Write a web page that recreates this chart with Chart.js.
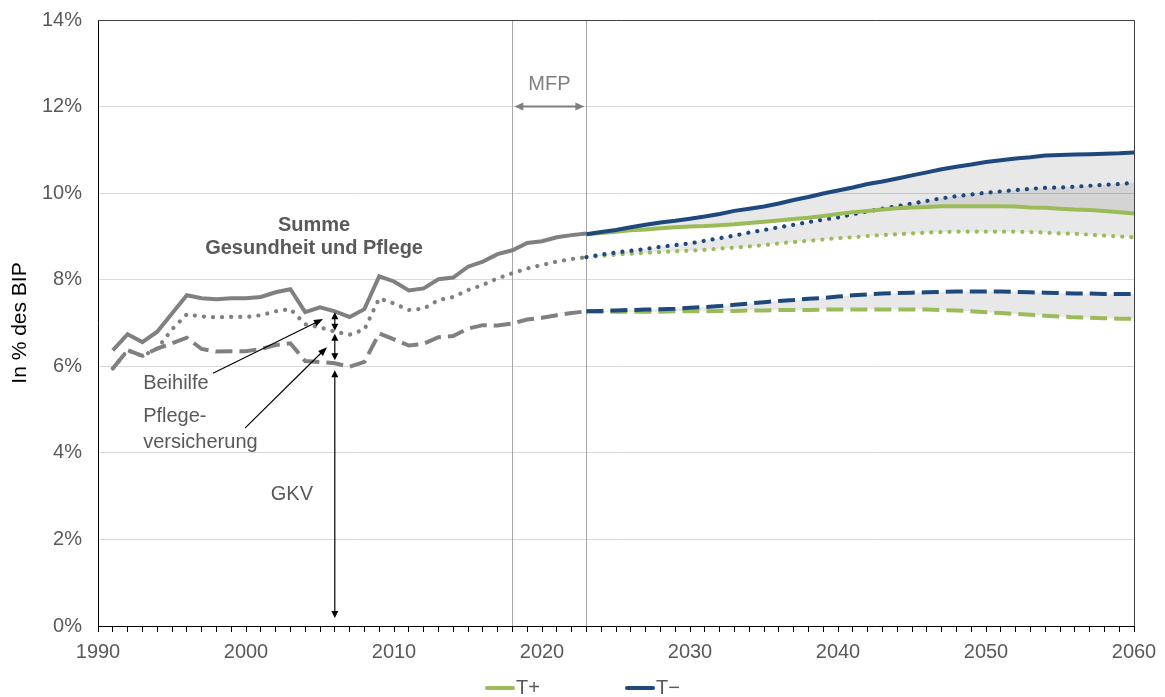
<!DOCTYPE html>
<html lang="de">
<head>
<meta charset="utf-8">
<title>Gesundheit und Pflege in % des BIP</title>
<script src="https://cdn.jsdelivr.net/npm/chart.js@4.4.1/dist/chart.umd.min.js"></script>
<style>
    html, body { margin: 0; padding: 0; background: #fff; }
    #wrap { width: 1165px; height: 697px; position: relative; }
</style>
</head>
<body>
<div id="wrap"><canvas id="chart"></canvas></div>
<script>
// Historische Werte 1991-2023 (in % des BIP)
var histYears = [1991, 1992, 1993, 1994, 1995, 1996, 1997, 1998, 1999, 2000, 2001, 2002, 2003, 2004, 2005, 2006, 2007,
    2008, 2009, 2010, 2011, 2012, 2013, 2014, 2015, 2016, 2017, 2018, 2019, 2020, 2021, 2022, 2023];
var histSumme = [6.37, 6.74, 6.56, 6.80, 7.22, 7.64, 7.57, 7.55, 7.57, 7.57, 7.60, 7.71, 7.78, 7.25, 7.36, 7.27, 7.14,
    7.32, 8.08, 7.96, 7.75, 7.80, 8.01, 8.05, 8.30, 8.42, 8.59, 8.68, 8.85, 8.89, 8.98, 9.03, 9.07];
var histGkvPflege = [5.95, 6.37, 6.24, 6.41, 6.85, 7.20, 7.15, 7.13, 7.14, 7.14, 7.18, 7.27, 7.32, 6.97, 6.90, 6.80, 6.73,
    6.85, 7.57, 7.45, 7.30, 7.33, 7.53, 7.60, 7.76, 7.88, 8.03, 8.15, 8.26, 8.34, 8.42, 8.48, 8.52];
var histGkv = [5.95, 6.37, 6.24, 6.41, 6.53, 6.66, 6.40, 6.34, 6.35, 6.35, 6.40, 6.49, 6.53, 6.12, 6.10, 6.07, 5.99,
    6.10, 6.76, 6.62, 6.48, 6.52, 6.67, 6.70, 6.87, 6.95, 6.94, 6.99, 7.08, 7.12, 7.18, 7.23, 7.27];

// Projektion 2023-2060, Varianten T- und T+
var projYears = [2023, 2024, 2025, 2026, 2027, 2028, 2029, 2030, 2031, 2032, 2033, 2034, 2035, 2036, 2037, 2038, 2039,
    2040, 2041, 2042, 2043, 2044, 2045, 2046, 2047, 2048, 2049, 2050, 2051, 2052, 2053, 2054, 2055, 2056, 2057, 2058,
    2059, 2060];
var summeMinus = [9.05, 9.10, 9.15, 9.21, 9.27, 9.32, 9.36, 9.41, 9.46, 9.52, 9.59, 9.64, 9.69, 9.76, 9.84, 9.91, 9.99,
    10.06, 10.13, 10.21, 10.27, 10.34, 10.41, 10.48, 10.55, 10.61, 10.66, 10.72, 10.76, 10.80, 10.83, 10.87, 10.88,
    10.89, 10.90, 10.91, 10.92, 10.94];
var summePlus = [9.05, 9.08, 9.11, 9.14, 9.16, 9.19, 9.21, 9.23, 9.24, 9.26, 9.28, 9.31, 9.34, 9.37, 9.40, 9.43, 9.47,
    9.52, 9.56, 9.59, 9.62, 9.65, 9.67, 9.68, 9.70, 9.70, 9.70, 9.70, 9.70, 9.69, 9.67, 9.66, 9.64, 9.62, 9.61, 9.59,
    9.56, 9.53];
var gkvPflegeMinus = [8.52, 8.58, 8.63, 8.67, 8.71, 8.76, 8.80, 8.84, 8.90, 8.96, 9.02, 9.09, 9.15, 9.21, 9.27, 9.33,
    9.39, 9.44, 9.51, 9.58, 9.64, 9.70, 9.76, 9.82, 9.88, 9.93, 9.97, 10.01, 10.04, 10.07, 10.10, 10.12, 10.13, 10.15,
    10.17, 10.19, 10.21, 10.24];
var gkvPflegePlus = [8.52, 8.55, 8.58, 8.60, 8.62, 8.64, 8.66, 8.67, 8.69, 8.72, 8.74, 8.77, 8.80, 8.84, 8.87, 8.90,
    8.93, 8.96, 8.98, 9.01, 9.03, 9.05, 9.07, 9.09, 9.10, 9.11, 9.11, 9.11, 9.11, 9.11, 9.10, 9.09, 9.07, 9.06, 9.04,
    9.02, 9.00, 8.98];
var gkvMinus = [7.27, 7.28, 7.29, 7.30, 7.31, 7.32, 7.33, 7.35, 7.37, 7.39, 7.42, 7.45, 7.48, 7.51, 7.53, 7.56, 7.58,
    7.61, 7.64, 7.66, 7.68, 7.69, 7.70, 7.71, 7.72, 7.73, 7.73, 7.73, 7.73, 7.72, 7.71, 7.70, 7.69, 7.68, 7.68, 7.67,
    7.67, 7.67];
var gkvPlus = [7.27, 7.26, 7.26, 7.26, 7.26, 7.26, 7.27, 7.27, 7.27, 7.28, 7.28, 7.29, 7.29, 7.30, 7.30, 7.30, 7.31,
    7.31, 7.31, 7.31, 7.31, 7.31, 7.31, 7.31, 7.30, 7.29, 7.27, 7.25, 7.23, 7.21, 7.19, 7.17, 7.15, 7.13, 7.12, 7.11,
    7.10, 7.10];

// Achsen und Markierungen
var yTicks = [0, 2, 4, 6, 8, 10, 12, 14];
var xLabelYears = [1990, 2000, 2010, 2020, 2030, 2040, 2050, 2060];
var mfpStart = 2018;
var mfpEnd = 2023;
var markYear = 2006;
var legendItems = ['T+', 'T\u2212'];

var GRAY = '#808080';
var NAVY = '#1f497d';
var GREEN = '#9bbb59';
var TEXT = '#595959';
var BAND = 'rgba(0, 0, 0, 0.09)';
var FONT = '"Liberation Sans", Arial, sans-serif';

function points(years, values) {
    return years.map(function (y, i) { return { x: y, y: values[i] }; });
}

function line(label, years, values, color, style, fill) {
    var ds = {
        label: label,
        data: points(years, values),
        borderColor: color,
        borderWidth: 4,
        pointRadius: 0,
        tension: 0,
        fill: false,
        borderCapStyle: 'butt'
    };
    if (style === 'dot') {
        ds.borderDash = [0.1, 9];
        ds.borderCapStyle = 'round';
        ds.borderWidth = 4.2;
    } else if (style === 'dash') {
        ds.borderDash = [17, 7];
    }
    if (fill !== undefined) {
        ds.fill = fill;
        ds.backgroundColor = BAND;
    }
    return ds;
}

function arrowHead(ctx, x1, y1, x2, y2, len, half) {
    var a = Math.atan2(y2 - y1, x2 - x1);
    ctx.beginPath();
    ctx.moveTo(x2, y2);
    ctx.lineTo(x2 - len * Math.cos(a) + half * Math.sin(a), y2 - len * Math.sin(a) - half * Math.cos(a));
    ctx.lineTo(x2 - len * Math.cos(a) - half * Math.sin(a), y2 - len * Math.sin(a) + half * Math.cos(a));
    ctx.closePath();
    ctx.fill();
}

function arrow(ctx, x1, y1, x2, y2, both, len, half) {
    var a = Math.atan2(y2 - y1, x2 - x1);
    var sx = both ? x1 + len * 0.8 * Math.cos(a) : x1;
    var sy = both ? y1 + len * 0.8 * Math.sin(a) : y1;
    ctx.beginPath();
    ctx.moveTo(sx, sy);
    ctx.lineTo(x2 - len * 0.8 * Math.cos(a), y2 - len * 0.8 * Math.sin(a));
    ctx.stroke();
    arrowHead(ctx, x1, y1, x2, y2, len, half);
    if (both) arrowHead(ctx, x2, y2, x1, y1, len, half);
}

// Rahmen, MFP-Linien, Beschriftungen und Legende
var decorations = {
    id: 'decorations',
    beforeDatasetsDraw: function (chart) {
        var ctx = chart.ctx, xs = chart.scales.x, a = chart.chartArea;
        ctx.save();
        ctx.strokeStyle = '#a6a6a6';
        ctx.lineWidth = 1;
        [mfpStart, mfpEnd].forEach(function (yr) {
            var x = Math.round(xs.getPixelForValue(yr)) + 0.5;
            ctx.beginPath();
            ctx.moveTo(x, a.top);
            ctx.lineTo(x, a.bottom);
            ctx.stroke();
        });
        ctx.restore();
    },
    afterDraw: function (chart) {
        var ctx = chart.ctx, xs = chart.scales.x, ys = chart.scales.y, a = chart.chartArea;
        var px = function (v) { return xs.getPixelForValue(v); };
        var py = function (v) { return ys.getPixelForValue(v); };
        ctx.save();

        // obere und rechte Rahmenlinie
        ctx.strokeStyle = '#404040';
        ctx.lineWidth = 1;
        ctx.beginPath();
        ctx.moveTo(Math.round(a.left), Math.round(a.top) + 0.5);
        ctx.lineTo(Math.round(a.right) + 0.5, Math.round(a.top) + 0.5);
        ctx.lineTo(Math.round(a.right) + 0.5, Math.round(a.bottom));
        ctx.stroke();

        // MFP
        ctx.fillStyle = '#7f7f7f';
        ctx.font = '20px ' + FONT;
        ctx.textAlign = 'center';
        ctx.textBaseline = 'middle';
        ctx.fillText('MFP', px((mfpStart + mfpEnd) / 2), py(12.52));
        ctx.strokeStyle = '#7f7f7f';
        ctx.lineWidth = 2;
        arrow(ctx, px(mfpStart) + 2, py(12), px(mfpEnd) - 2, py(12), true, 9, 4);

        // Summe Gesundheit und Pflege
        ctx.fillStyle = TEXT;
        ctx.font = 'bold 20px ' + FONT;
        ctx.fillText('Summe', px(2004.6), py(9.26));
        ctx.fillText('Gesundheit und Pflege', px(2004.6), py(8.73));

        // Komponenten-Beschriftungen
        ctx.font = '20px ' + FONT;
        ctx.textAlign = 'left';
        ctx.fillText('Beihilfe', px(1993.05), py(5.61));
        ctx.fillText('Pflege-', px(1993.05), py(4.83));
        ctx.fillText('versicherung', px(1993.05), py(4.25));
        ctx.textAlign = 'center';
        ctx.fillText('GKV', px(2003.1), py(3.03));

        // Pfeile bei 2006
        var i = histYears.indexOf(markYear);
        var mx = px(markYear);
        ctx.strokeStyle = '#000';
        ctx.fillStyle = '#000';
        ctx.lineWidth = 1.2;
        arrow(ctx, mx, py(histSumme[i]) + 1, mx, py(histGkvPflege[i]) - 1, true, 7, 3.5);
        arrow(ctx, mx, py(histGkvPflege[i]) + 2, mx, py(histGkv[i]) - 3, true, 7, 3.5);
        arrow(ctx, mx, py(histGkv[i]) + 7, mx, py(0) - 8, true, 7, 3.5);
        arrow(ctx, px(1997.77), py(5.84), px(2005.2), py(7.09), false, 9, 3.5);
        arrow(ctx, px(1999.93), py(4.57), px(2005.47), py(6.44), false, 9, 3.5);

        // Legende
        var colors = [GREEN, NAVY];
        var lx = [485, 625];
        var ly = 688;
        ctx.font = '20px ' + FONT;
        ctx.textAlign = 'left';
        legendItems.forEach(function (txt, k) {
            ctx.strokeStyle = colors[k];
            ctx.lineWidth = 4;
            ctx.lineCap = 'round';
            ctx.beginPath();
            ctx.moveTo(lx[k] + 2, ly);
            ctx.lineTo(lx[k] + 28, ly);
            ctx.stroke();
            ctx.fillStyle = TEXT;
            ctx.fillText(txt, lx[k] + 31, ly);
        });
        ctx.restore();
    }
};

var datasets = [
    line('Summe T-', projYears, summeMinus, NAVY, 'solid', 1),
    line('Summe T+', projYears, summePlus, GREEN, 'solid'),
    line('GKV+Pflege T-', projYears, gkvPflegeMinus, NAVY, 'dot', 3),
    line('GKV+Pflege T+', projYears, gkvPflegePlus, GREEN, 'dot'),
    line('GKV T-', projYears, gkvMinus, NAVY, 'dash', 5),
    line('GKV T+', projYears, gkvPlus, GREEN, 'dash'),
    line('Summe', histYears, histSumme, GRAY, 'solid'),
    line('GKV+Pflege', histYears, histGkvPflege, GRAY, 'dot'),
    line('GKV', histYears, histGkv, GRAY, 'dash')
];

new Chart(document.getElementById('chart'), {
    type: 'line',
    data: { datasets: datasets },
    options: {
        responsive: true,
        maintainAspectRatio: false,
        animation: false,
        layout: { padding: { top: 20, right: 31, left: 0, bottom: 0 } },
        plugins: {
            legend: { display: false },
            tooltip: { enabled: false },
            filler: { drawTime: 'beforeDatasetsDraw' }
        },
        scales: {
            x: {
                type: 'linear',
                min: 1990,
                max: 2060,
                afterFit: function (scale) { scale.height = 71; },
                ticks: {
                    stepSize: 1,
                    autoSkip: false,
                    maxRotation: 0,
                    padding: 8,
                    color: TEXT,
                    font: { family: FONT, size: 20 },
                    callback: function (v) { return xLabelYears.indexOf(v) >= 0 ? String(v) : ''; }
                },
                grid: { drawOnChartArea: false, drawTicks: true, tickLength: 6, color: '#000', tickColor: '#000' },
                border: { color: '#000', width: 1 }
            },
            y: {
                min: 0,
                max: 14,
                afterFit: function (scale) {
                    scale.width = 98;
                    scale.paddingTop = 0;
                    scale.paddingBottom = 0;
                },
                afterBuildTicks: function (scale) {
                    scale.ticks = yTicks.map(function (v) { return { value: v }; });
                },
                ticks: {
                    padding: 16,
                    color: TEXT,
                    font: { family: FONT, size: 20 },
                    callback: function (v) { return v + '%'; }
                },
                grid: { color: '#d9d9d9', drawTicks: false },
                border: { color: '#000', width: 1 },
                title: {
                    display: true,
                    text: 'In % des BIP',
                    color: '#000',
                    font: { family: FONT, size: 21 },
                    padding: { top: 8, bottom: 4 }
                }
            }
        }
    },
    plugins: [decorations]
});
</script>
</body>
</html>
